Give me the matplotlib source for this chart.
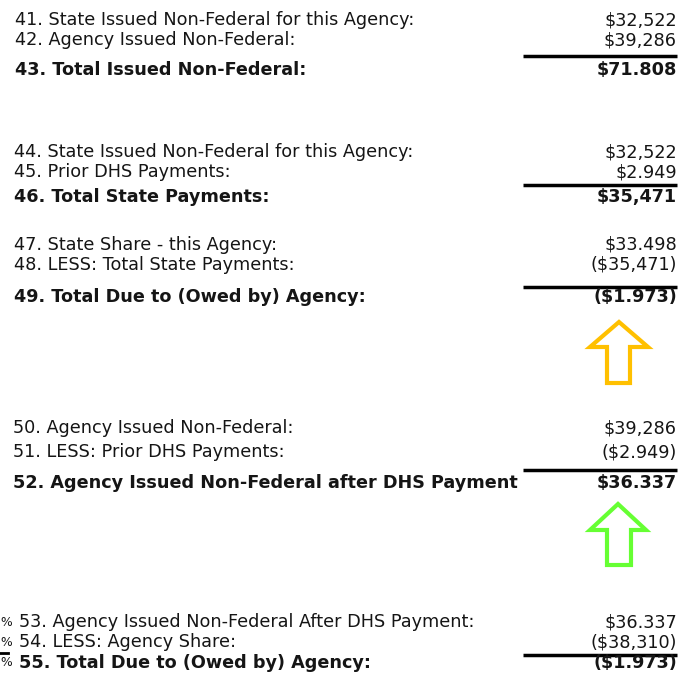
import matplotlib.pyplot as plt
from matplotlib.patches import Polygon

# line items per block: labels and amounts, last row of each block is the bold total
block1_labels = ["41. State Issued Non-Federal for this Agency:",
                 "42. Agency Issued Non-Federal:",
                 "43. Total Issued Non-Federal:"]
block1_values = ["$32,522", "$39,286", "$71.808"]

block2_labels = ["44. State Issued Non-Federal for this Agency:",
                 "45. Prior DHS Payments:",
                 "46. Total State Payments:"]
block2_values = ["$32,522", "$2.949", "$35,471"]

block3_labels = ["47. State Share - this Agency:",
                 "48. LESS: Total State Payments:",
                 "49. Total Due to (Owed by) Agency:"]
block3_values = ["$33.498", "($35,471)", "($1.973)"]

block4_labels = ["50. Agency Issued Non-Federal:",
                 "51. LESS: Prior DHS Payments:",
                 "52. Agency Issued Non-Federal after DHS Payment"]
block4_values = ["$39,286", "($2.949)", "$36.337"]

block5_labels = ["53. Agency Issued Non-Federal After DHS Payment:",
                 "54. LESS: Agency Share:",
                 "55. Total Due to (Owed by) Agency:"]
block5_values = ["$36.337", "($38,310)", "($1.973)"]

blocks = [block1_labels, block2_labels, block3_labels, block4_labels, block5_labels]
values = [block1_values, block2_values, block3_values, block4_values, block5_values]
row_y = [(20, 40, 70), (152, 172, 197), (245, 265, 297), (428, 452, 483), (622, 642, 663)]
rule_y = [56, 185, 287, 470, 655]
label_x = [15, 14, 14, 13, 19]

W, H = 685, 680
fig = plt.figure(figsize=(W / 100, H / 100), dpi=100)
ax = fig.add_axes([0, 0, 1, 1])
ax.set_xlim(0, W)
ax.set_ylim(H, 0)
ax.axis("off")

fs = 12.7
ink = "#151515"
for labels, vals, ys, ry, lx in zip(blocks, values, row_y, rule_y, label_x):
    for i, (lab, val, y) in enumerate(zip(labels, vals, ys)):
        w = "bold" if i == 2 else "normal"
        ax.text(lx, y, lab, fontsize=fs, fontweight=w, va="center", ha="left", color=ink)
        ax.text(677, y, val, fontsize=fs, fontweight=w, va="center", ha="right", color=ink)
    ax.plot([523, 677], [ry, ry], color="black", lw=2.5, solid_capstyle="butt")

# clipped column fragments at the left edge of the last block
for y in row_y[4]:
    ax.text(0, y, "%", fontsize=fs * 0.7, va="center", ha="left", color=ink)
ax.plot([0, 8], [653, 653], color="black", lw=2)


def up_arrow(x0, x1, ytip, yhead, ybot, sx0, sx1, color):
    pts = [(x0 + (x1 - x0) / 2, ytip), (x1, yhead), (sx1, yhead), (sx1, ybot),
           (sx0, ybot), (sx0, yhead), (x0, yhead)]
    ax.add_patch(Polygon(pts, closed=True, fill=False, edgecolor=color, lw=3, joinstyle="miter"))


up_arrow(590, 648, 322, 347, 383, 607, 630, "#FFC000")
up_arrow(590, 646, 504, 530, 565, 607, 631, "#66FF33")

fig.savefig("out.png", dpi=100)
